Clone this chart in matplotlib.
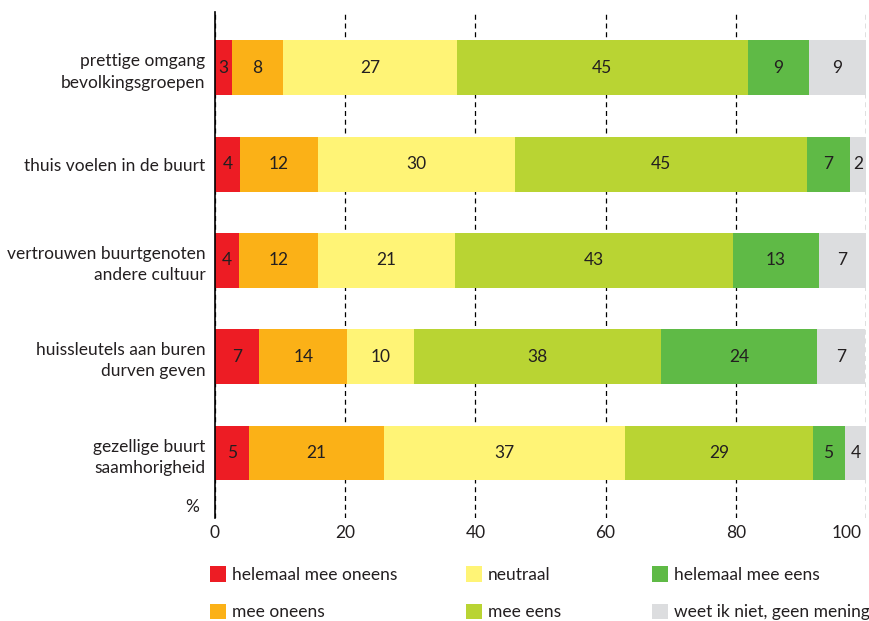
import matplotlib.pyplot as plt
import numpy as np

plt.rcParams['font.family'] = ['Lato', 'DejaVu Sans']

categories = ['prettige omgang\nbevolkingsgroepen',
              'thuis voelen in de buurt',
              'vertrouwen buurtgenoten\nandere cultuur',
              'huissleutels aan buren\ndurven geven',
              'gezellige buurt\nsaamhorigheid']

series = ['helemaal mee oneens', 'mee oneens', 'neutraal',
          'mee eens', 'helemaal mee eens', 'weet ik niet, geen mening']

helemaal_oneens = [2.6, 3.8, 3.7, 6.8, 5.2]
oneens = [7.8, 12.0, 12.1, 13.5, 20.7]
neutraal = [26.8, 30.3, 21.1, 10.2, 37.1]
eens = [44.6, 44.8, 42.7, 38.0, 28.8]
helemaal_eens = [9.4, 6.7, 13.2, 24.0, 4.9]
weet_niet = [8.8, 2.4, 7.2, 7.4, 3.6]

xticks = [0, 20, 40, 60, 80, 100]

colors = ['#ED1C24', '#FBB117', '#FFF476', '#B9D433', '#5FBA46', '#DCDDDF']

data = [helemaal_oneens, oneens, neutraal, eens, helemaal_eens, weet_niet]

FS = 12.5
TXT = '#231F20'

fig = plt.figure(figsize=(8.7, 6.21), dpi=100)
ax = fig.add_axes([215 / 870, 1 - 518 / 621, 651 / 870, 506 / 621])

y = np.arange(len(categories))
left = np.zeros(len(categories))
handles = []
for vals, col, name in zip(data, colors, series):
    vals = np.array(vals)
    bars = ax.barh(y, vals, left=left, height=0.57, color=col, label=name, zorder=3)
    handles.append(bars)
    for yi, l, v in zip(y, left, vals):
        ax.text(l + v / 2, yi, f"{v:.0f}", ha='center', va='center',
                fontsize=FS, color=TXT, zorder=4)
    left += vals

ax.set_xlim(0, 100)
ax.set_ylim(len(categories) - 1 + 0.675, -0.58)
ax.set_yticks(y)
ax.set_yticklabels(categories, fontsize=FS, multialignment='right',
                   linespacing=1.4, color=TXT)
ax.set_xticks(xticks)
# last label drawn separately so it stays inside the picture
ax.set_xticklabels([str(t) for t in xticks[:-1]] + [''])
ax.tick_params(axis='both', length=0, labelsize=FS, colors=TXT)
ax.tick_params(axis='y', pad=7)
ax.tick_params(axis='x', pad=5)
ax.annotate(str(xticks[-1]), xy=(xticks[-1], 0), xycoords=ax.get_xaxis_transform(),
            xytext=(-3, -5), textcoords='offset points', ha='right', va='top',
            fontsize=FS, color=TXT)

for s in ['top', 'right', 'bottom']:
    ax.spines[s].set_visible(False)
ax.spines['left'].set_color('black')
ax.spines['left'].set_linewidth(1.2)
ax.spines['left'].set_zorder(5)

ax.xaxis.grid(True, linestyle=(0, (4, 3)), color='black', linewidth=0.9, zorder=1)
ax.set_axisbelow(True)

fig.text(192 / 870, 1 - 507 / 621, '%', fontsize=FS, ha='center', va='center', color=TXT)

# legend, three columns placed separately
col_x = [210, 466, 652]
for i, x in enumerate(col_x):
    leg = fig.legend(handles[2 * i:2 * i + 2], series[2 * i:2 * i + 2],
                     loc='upper left', bbox_to_anchor=(x / 870, 1 - 566 / 621),
                     frameon=False, fontsize=FS, handlelength=0.95, handleheight=1.0,
                     handletextpad=0.3, labelspacing=1.2, borderpad=0, borderaxespad=0)
    for t in leg.get_texts():
        t.set_color(TXT)

fig.savefig('out.png', dpi=100)
